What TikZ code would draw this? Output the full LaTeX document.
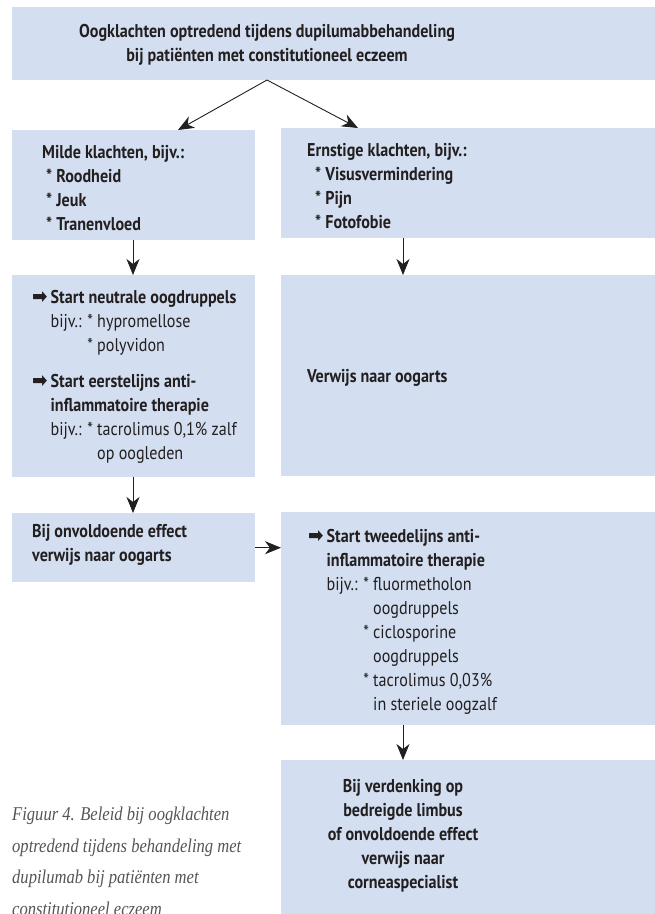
\documentclass[tikz,border=0pt]{standalone}
\usepackage{fontspec}
\setmainfont{PT Sans}[FakeStretch=0.87]
\newfontfamily\symfont{DejaVu Sans}[FakeStretch=0.9]
\newfontfamily\capfont{Liberation Serif}[FakeStretch=0.85]
\usetikzlibrary{arrows.meta}

\definecolor{boxblue}{RGB}{211,223,240}
\definecolor{ink}{RGB}{35,31,32}
\definecolor{capgray}{RGB}{85,85,85}

\newcommand{\pijl}{{\symfont\fontsize{20.5}{24}\selectfont ➡}\hspace{3pt}}
\newcommand{\pijlsp}{\phantom{\pijl}}
\newcommand{\nb}{\mdseries}

\begin{document}
\begin{tikzpicture}
    [x=1pt,y=-1pt,
     every node/.style={inner sep=0pt,text=ink},
     box/.style={fill=boxblue,anchor=north west},
     txt/.style={font=\fontsize{18.5}{24}\selectfont\bfseries,align=left,anchor=west},
     arr/.style={draw=ink,line width=0.9pt,-{Stealth[length=16pt,width=13pt,inset=5pt]}}]
    \useasboundingbox (0,0) rectangle (655,914);

    % boxes
    \node[box,minimum width=643pt,minimum height=73pt] (klacht) at (12,7) {};
    \node[box,minimum width=243pt,minimum height=110pt] (mild) at (12,130) {};
    \node[box,minimum width=374pt,minimum height=110pt] (ernstig) at (281,128) {};
    \node[box,minimum width=243pt,minimum height=202pt] (neutraal) at (12,275) {};
    \node[box,minimum width=374pt,minimum height=201pt] (oogarts) at (281,275) {};
    \node[box,minimum width=243pt,minimum height=69pt] (onvold) at (12,513) {};
    \node[box,minimum width=374pt,minimum height=213pt] (tweede) at (281,512) {};
    \node[box,minimum width=374pt,minimum height=170pt] (cornea) at (281,760) {};

    \coordinate (split) at (267,80);
    \coordinate (mildin) at (178,130);
    \coordinate (ernstin) at (358,128);
    \coordinate (colL) at (133,0);
    \coordinate (colR) at (403,0);

    % texts
    \node[txt,align=center,anchor=center] (t1) at (267,45)
      {Oogklachten optredend tijdens dupilumabbehandeling\\bij patiënten met constitutioneel eczeem};
    \node[txt] (t2) at (42,188)
      {Milde klachten, bijv.:\\\hspace{4pt}* Roodheid\\\hspace{4pt}* Jeuk\\\hspace{4pt}* Tranenvloed};
    \node[txt] (t3) at (307,186)
      {Ernstige klachten, bijv.:\\\hspace{8pt}* Visusvermindering\\\hspace{8pt}* Pijn\\\hspace{8pt}* Fotofobie};
    \node[txt] (t4) at (32,377)
      {\pijl Start neutrale oogdruppels\\
       \nb\pijlsp bijv.: * hypromellose\\
       \nb\pijlsp\phantom{bijv.: }* polyvidon\\[12pt]
       \pijl Start eerstelijns anti-\\
       \pijlsp inflammatoire therapie\\
       \nb\pijlsp bijv.: * tacrolimus 0,1\% zalf\\
       \nb\pijlsp\phantom{bijv.: * }op oogleden};
    \node[txt] (t5) at (307,378) {Verwijs naar oogarts};
    \node[txt] (t6) at (32,545)
      {Bij onvoldoende effect\\verwijs naar oogarts};
    \node[txt] (t7) at (308,622)
      {\pijl Start tweedelijns anti-\\
       \pijlsp inflammatoire therapie\\
       \nb\pijlsp bijv.: * fluormetholon\\
       \nb\pijlsp\phantom{bijv.: * }oogdruppels\\
       \nb\pijlsp\phantom{bijv.: }* ciclosporine\\
       \nb\pijlsp\phantom{bijv.: * }oogdruppels\\
       \nb\pijlsp\phantom{bijv.: }* tacrolimus 0,03\%\\
       \nb\pijlsp\phantom{bijv.: * }in steriele oogzalf};
    \node[txt,align=center,anchor=center] (t8) at (403,836)
      {Bij verdenking op\\bedreigde limbus\\of onvoldoende effect\\verwijs naar\\corneaspecialist};
    \node[anchor=north west,align=left,text=capgray,
          font=\capfont\itshape\fontsize{19.5}{31.5}\selectfont] (fig) at (12,807)
      {Figuur 4. Beleid bij oogklachten\\optredend tijdens behandeling met\\dupilumab bij patiënten met\\constitutioneel eczeem};

    % connectors
    \draw[arr] (split) -- (mildin);
    \draw[arr] (split) -- (ernstin);
    \draw[arr] (mild.south -| colL) -- (neutraal.north -| colL);
    \draw[arr] (ernstig.south -| colR) -- (oogarts.north -| colR);
    \draw[arr] (neutraal.south -| colL) -- (onvold.north -| colL);
    \draw[arr] (onvold.east) -- (onvold.east -| tweede.west);
    \draw[arr] (tweede.south -| colR) -- (cornea.north -| colR);
\end{tikzpicture}
\end{document}
